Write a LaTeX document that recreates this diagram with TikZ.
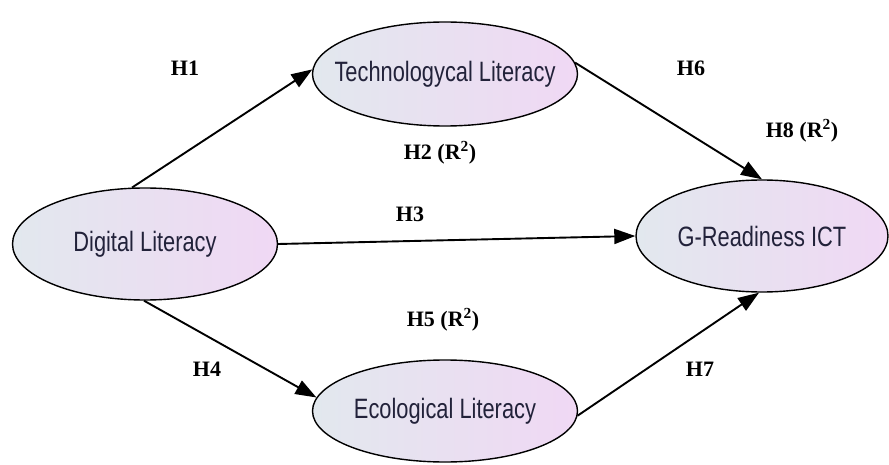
\documentclass[tikz,border=0pt]{standalone}
\usepackage{fontspec}
\setmainfont{Liberation Serif}
\newfontfamily\nodefont[FakeStretch=0.78]{Liberation Sans}
\usetikzlibrary{shapes.geometric,arrows.meta}
\definecolor{ellL}{HTML}{E2E8EE}
\definecolor{ellR}{HTML}{F0D8F4}
\definecolor{txt}{HTML}{22223A}
\tikzset{
  ell/.style={ellipse, draw=black, line width=1.4pt, left color=ellL, right color=ellR,
    inner sep=0pt},
  etext/.style={label={[font=\nodefont\fontsize{28}{30}\selectfont, text=txt]center:#1}},
  conn/.style={line width=1.9pt, -{Triangle[length=21pt,width=15pt]}},
  hlab/.style={font=\bfseries\fontsize{22}{24}\selectfont, inner sep=0pt}
}
\begin{document}
\begin{tikzpicture}[x=1pt,y=-1pt]
\useasboundingbox (0,0) rectangle (889,465);
\node[ell, minimum width=265pt, minimum height=104pt, etext={Technologycal Literacy}] (tech) at (445,74) {};
\node[ell, minimum width=265pt, minimum height=112pt, etext={Digital Literacy}] (dig) at (145,244) {};
\node[ell, minimum width=252pt, minimum height=112pt, etext={G-Readiness ICT}] (g) at (762,236) {};
\node[ell, minimum width=265pt, minimum height=102pt, etext={Ecological Literacy}] (eco) at (445,411) {};
\draw[conn] (dig.103) -- (tech.178);
\draw[conn] (tech.5) -- (g.north);
\draw[conn] (dig.east) -- (g.west);
\draw[conn] (dig.-91) -- (eco.174);
\draw[conn] (eco.-2) -- (g.-93);
\node[hlab] (h1) at (185,68) {H1};
\node[hlab] (h6) at (691,68) {H6};
\node[hlab] (h8) at (802,131) {H8 (R\textsuperscript{2})};
\node[hlab] (h2) at (440,153) {H2 (R\textsuperscript{2})};
\node[hlab] (h3) at (410,214) {H3};
\node[hlab] (h5) at (443,320) {H5 (R\textsuperscript{2})};
\node[hlab] (h4) at (207,369) {H4};
\node[hlab] (h7) at (700,369) {H7};
\end{tikzpicture}
\end{document}
